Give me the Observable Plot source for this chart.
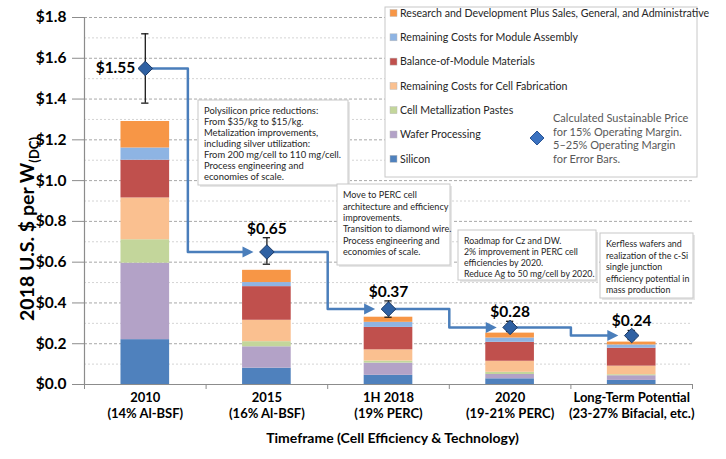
<!DOCTYPE html>
<html><head><meta charset="utf-8">
<script src="https://cdn.jsdelivr.net/npm/d3@7"></script>
<script src="https://cdn.jsdelivr.net/npm/@observablehq/plot@0.6"></script>
<style>
body{margin:0;background:#fff}
#chart{position:relative;width:726px;height:459px;overflow:hidden}
</style>
</head><body><div id="chart"></div>
<script>
// ---------- data ----------
const categories = ["2010", "2015", "1H 2018", "2020", "Long-Term Potential"];
const subLabels = ["(14% Al-BSF)", "(16% Al-BSF)", "(19% PERC)", "(19-21% PERC)", "(23-27% Bifacial, etc.)"];
const components = [
  "Silicon",
  "Wafer Processing",
  "Cell Metallization Pastes",
  "Remaining Costs for Cell Fabrication",
  "Balance-of-Module Materials",
  "Remaining Costs for Module Assembly",
  "Research and Development Plus Sales, General, and Administrative"
];
const silicon  = [0.22, 0.08, 0.045, 0.028, 0.02];
const wafer    = [0.375, 0.105, 0.06, 0.021, 0.023];
const pastes   = [0.115, 0.025, 0.01, 0.011, 0.005];
const cellFab  = [0.205, 0.105, 0.055, 0.054, 0.042];
const bom      = [0.185, 0.165, 0.11, 0.093, 0.088];
const assembly = [0.06, 0.02, 0.025, 0.021, 0.016];
const rdSga    = [0.13, 0.06, 0.025, 0.024, 0.014];
const price     = [1.55, 0.65, 0.37, 0.28, 0.24];
const priceLow  = [1.38, 0.59, 0.33, 0.26, 0.22];
const priceHigh = [1.72, 0.72, 0.41, 0.31, 0.265];
const priceLabels = ["$1.55", "$0.65", "$0.37", "$0.28", "$0.24"];
const yTicks = [0, 0.2, 0.4, 0.6, 0.8, 1.0, 1.2, 1.4, 1.6, 1.8];
const yMinorTicks = [0.1, 0.3, 0.5, 0.7, 0.9, 1.1, 1.3, 1.5, 1.7];
const priceNote = ["Calculated Sustainable Price", "for 15% Operating Margin.", "5\u201325% Operating Margin", "for Error Bars."];
const notes = [
  ["Polysilicon price reductions:", "From $35/kg to $15/kg.", "Metalization improvements,", "including silver utilization:", "From 200 mg/cell to 110 mg/cell.", "Process engineering and", "economies of scale."],
  ["Move to PERC cell", "architecture and efficiency", "improvements.", "Transition to diamond wire.", "Process engineering and", "economies of scale."],
  ["Roadmap for Cz and DW.", "2% improvement in PERC cell", "efficiencies by 2020.", "Reduce Ag to 50 mg/cell by 2020."],
  ["Kerfless wafers and", "realization of the c-Si", "single junction", "efficiency potential in", "mass production"]
];
const xTitle = "Timeframe (Cell Efficiency & Technology)";
const yTitle = "2018 U.S. $ per W";
const yTitleSub = "(DC)";

// ---------- styles ----------
const colors = ["#4f81bd", "#b3a2c7", "#c3d69b", "#fac090", "#c0504d", "#8eb4e3", "#f79646"];
const FONT = "Lato, 'Open Sans', sans-serif";
const halfBar = 0.2;
const bendOffset = [0.35, 0.5, 0.5, 0.5];
const tipGap = 0.11;

// ---------- tables ----------
const series = [silicon, wafer, pastes, cellFab, bom, assembly, rdSga];
const stackTable = [];
categories.forEach((c, i) => {
  components.forEach((comp, k) => stackTable.push({i, comp, value: series[k][i]}));
});
const priceTable = categories.map((c, i) => ({
  x: i + 0.5, p: price[i], lo: priceLow[i], hi: priceHigh[i], label: priceLabels[i]
}));
const arrowPts = [];
const arrowTips = [];
for (let i = 0; i < categories.length - 1; i++) {
  const a = priceTable[i], b = priceTable[i + 1];
  const bx = a.x + bendOffset[i];
  const tx = b.x - tipGap;
  arrowPts.push({s: i, x: a.x, y: a.p}, {s: i, x: bx, y: a.p}, {s: i, x: bx, y: b.p}, {s: i, x: tx - 0.04, y: b.p});
  arrowTips.push({x: tx, y: b.p});
}

const diamondSym = {draw(ctx, size) {
  const h = Math.sqrt(size / 2);
  ctx.moveTo(0, -h); ctx.lineTo(h, 0); ctx.lineTo(0, h); ctx.lineTo(-h, 0); ctx.closePath();
}};
const triRight = {draw(ctx) {
  ctx.moveTo(0, 0); ctx.lineTo(-11, -5.5); ctx.lineTo(-11, 5.5); ctx.closePath();
}};

const plot = Plot.plot({
  width: 726,
  height: 459,
  marginLeft: 84,
  marginRight: 34,
  marginTop: 17,
  marginBottom: 75,
  style: {fontFamily: FONT, color: "#000", background: "#fff"},
  x: {type: "linear", domain: [0, 5], axis: null},
  y: {domain: [0, 1.8], axis: null},
  color: {domain: components, range: colors},
  marks: [
    Plot.gridY(yMinorTicks, {stroke: "#d4d4d4", strokeOpacity: 1, strokeDasharray: "2,2"}),
    Plot.gridY(yTicks.slice(1), {stroke: "#a8a8a8", strokeOpacity: 1, strokeDasharray: "3,2"}),
    Plot.axisY({ticks: yTicks, tickFormat: d => "$" + d.toFixed(1), tickSize: 12, tickPadding: 6,
      fontSize: 15.5, fontWeight: "bold", stroke: "#8c8c8c", fill: "#000", label: null}),
    Plot.axisX({ticks: [0, 1, 2, 3, 4, 5], tickFormat: () => "", tickSize: 5, stroke: "#8c8c8c", label: null}),
    Plot.rectY(stackTable, Plot.stackY({
      x1: d => d.i + 0.5 - halfBar, x2: d => d.i + 0.5 + halfBar,
      y: "value", fill: "comp"
    })),
    Plot.ruleY([0], {stroke: "#8c8c8c", strokeWidth: 1.2}),
    Plot.ruleX([0], {stroke: "#8c8c8c", strokeWidth: 1.2}),
    Plot.line(arrowPts, {x: "x", y: "y", z: "s", stroke: "#4a7ebb", strokeWidth: 2.5, curve: "linear"}),
    Plot.dot(arrowTips, {x: "x", y: "y", symbol: triRight, fill: "#4a7ebb", stroke: null, r: 5}),
    Plot.ruleX(priceTable, {x: "x", y1: "lo", y2: "hi", stroke: "#1a1a1a", strokeWidth: 1.3}),
    Plot.ruleY(priceTable, {y: "hi", x1: d => d.x - 0.03, x2: d => d.x + 0.03, stroke: "#1a1a1a", strokeWidth: 1.3}),
    Plot.ruleY(priceTable, {y: "lo", x1: d => d.x - 0.03, x2: d => d.x + 0.03, stroke: "#1a1a1a", strokeWidth: 1.3}),
    Plot.dot(priceTable, {x: "x", y: "p", symbol: diamondSym, r: 5.8, fill: "#2f61a3", stroke: "#1c3a66", strokeWidth: 1}),
    Plot.text(priceTable.slice(0, 1), {x: "x", y: "p", text: "label", textAnchor: "end", dx: -10,
      fontSize: 15.5, fontWeight: "bold", fill: "#000"}),
    Plot.text(priceTable.slice(1), {x: "x", y: "hi", text: "label", lineAnchor: "bottom", dy: -4,
      fontSize: 15.5, fontWeight: "bold", fill: "#000"}),
    Plot.text(categories, {x: (d, i) => i + 0.5, frameAnchor: "bottom", lineAnchor: "top", dy: 5,
      text: (d, i) => d + "\n" + subLabels[i], lineHeight: 1.3, fontSize: 13, fontWeight: "bold", fill: "#000"}),
    Plot.text([xTitle], {frameAnchor: "bottom", dx: 4, dy: 58, fontSize: 14, fontWeight: "bold", fill: "#000"})
  ]
});
document.getElementById("chart").appendChild(plot);

// ---------- overlays drawn into the SVG ----------
const svg = d3.select(plot);
const layer = svg.append("g").attr("text-anchor", "start").attr("font-family", FONT);

// y title with subscript
const yt = layer.append("text")
  .attr("transform", "translate(34,229) rotate(-90)")
  .attr("text-anchor", "middle")
  .attr("font-weight", "bold").attr("font-size", 19.5).attr("fill", "#000");
yt.append("tspan").text(yTitle);
yt.append("tspan").attr("font-size", 13).attr("dy", 5).text(yTitleSub);

function box(x, y, w, h, shadow) {
  if (shadow) layer.append("rect").attr("x", x + 2).attr("y", y + 2).attr("width", w).attr("height", h).attr("fill", "#e6e6e6");
  layer.append("rect").attr("x", x).attr("y", y).attr("width", w).attr("height", h)
    .attr("fill", "#fff").attr("stroke", "#c8c8c8").attr("stroke-width", 1);
}

// legend
box(385, 7, 312, 170, false);
const legendOrder = components.slice().reverse();
const legendColors = colors.slice().reverse();
legendOrder.forEach((name, k) => {
  const cy = 13 + k * 24.3;
  layer.append("rect").attr("x", 390).attr("y", cy - 3.5).attr("width", 7).attr("height", 7)
    .attr("fill", legendColors[k]).attr("stroke", "#bbb").attr("stroke-width", 0.5);
  layer.append("text").attr("x", 400).attr("y", cy).attr("dy", "0.35em")
    .attr("font-size", 10.6).attr("fill", "#262626").text(name);
});
layer.append("path").attr("d", d3.symbol(diamondSym, 2 * 7 * 7)()).attr("transform", "translate(537,138)")
  .attr("fill", "#3b72c0").attr("stroke", "#2a5595");
priceNote.forEach((line, k) => {
  layer.append("text").attr("x", 553).attr("y", 118 + k * 13.7).attr("dy", "0.35em")
    .attr("font-size", 11).attr("fill", "#595959").text(line);
});

// annotation boxes
const noteBoxes = [
  {x: 198, y: 100, w: 150, h: 85, lh: 11, fs: 9.4},
  {x: 337, y: 184, w: 113, h: 81, lh: 11.4, fs: 9.1},
  {x: 458, y: 230, w: 138, h: 50, lh: 11, fs: 8.8},
  {x: 600, y: 233, w: 93, h: 65, lh: 11.5, fs: 8.9}
];
noteBoxes.forEach((b, n) => {
  box(b.x, b.y, b.w, b.h, true);
  notes[n].forEach((line, k) => {
    layer.append("text").attr("x", b.x + 6).attr("y", b.y + 11 + k * b.lh).attr("dy", "0.35em")
      .attr("font-size", b.fs).attr("fill", "#262626").text(line);
  });
});
</script>
</body></html>
